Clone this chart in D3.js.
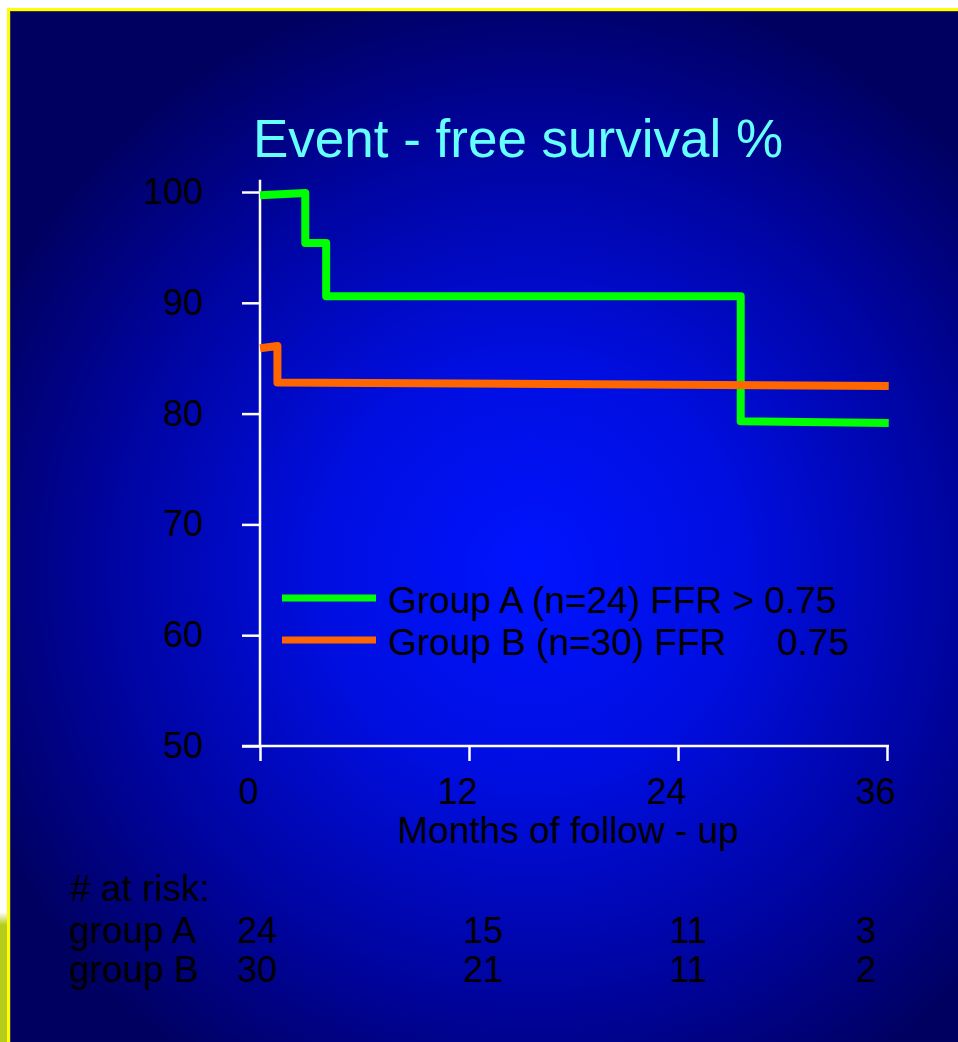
<!DOCTYPE html>
<html><head><meta charset="utf-8">
<script src="https://cdn.jsdelivr.net/npm/d3@7"></script>
<style>html,body{margin:0;padding:0;background:#fff;overflow:hidden}</style>
</head><body><svg id="c" width="958" height="1042"></svg>
<script>
// ---- data ----
const title = "Event - free survival %";
const xLabel = "Months of follow - up";
const xTicks = [0, 12, 24, 36];
const yTicks = [50, 60, 70, 80, 90, 100];
const groupATime = [0, 2.6, 2.6, 3.8, 3.8, 27.6, 27.6, 36.1];
const groupASurv = [99.7, 99.9, 95.4, 95.4, 90.6, 90.6, 79.3, 79.15];
const groupBTime = [0, 1.0, 1.0, 36.1];
const groupBSurv = [85.9, 86.1, 82.8, 82.5];
const seriesNames = ["Group A (n=24) FFR > 0.75", "Group B (n=30) FFR"];
const seriesSuffix = ["", "0.75"];
const seriesColors = ["#00ff00", "#ff6600"];
const riskTitle = "# at risk:";
const riskRows = ["group A", "group B"];
const atRiskA = [24, 15, 11, 3];
const atRiskB = [30, 21, 11, 2];

// ---- layout ----
const W = 958, H = 1042;
const svg = d3.select("#c");
const FONT = "'Liberation Sans', Arial, sans-serif";
const defs = svg.append("defs");

const rg = defs.append("radialGradient").attr("id", "bg")
  .attr("gradientUnits", "userSpaceOnUse")
  .attr("cx", 530).attr("cy", 570).attr("r", 600);
[[0, "#0014ff"], [0.35, "#000ee0"], [0.7, "#0004a0"], [1, "#000060"]]
  .forEach(([o, c]) => rg.append("stop").attr("offset", o).attr("stop-color", c));

const lg = defs.append("linearGradient").attr("id", "strip")
  .attr("x1", 0).attr("y1", 0).attr("x2", 0).attr("y2", 1);
[[0, "#ffffff"], [0.1, "#b4cc1a"], [1, "#b4cc1a"]]
  .forEach(([o, c]) => lg.append("stop").attr("offset", o).attr("stop-color", c));

svg.append("rect").attr("width", W).attr("height", H).attr("fill", "#fff");
svg.append("rect").attr("x", 0).attr("y", 912).attr("width", 7).attr("height", H - 912).attr("fill", "url(#strip)");
svg.append("rect").attr("x", 7).attr("y", 8).attr("width", W - 7).attr("height", H - 8).attr("fill", "#ffff00");
svg.append("rect").attr("x", 10).attr("y", 11).attr("width", W - 10).attr("height", H - 11).attr("fill", "#333355");
svg.append("rect").attr("x", 11).attr("y", 12).attr("width", W - 11).attr("height", H - 12).attr("fill", "url(#bg)");

const x = d3.scaleLinear().domain([0, 36]).range([260, 887]);
const y = d3.scaleLinear().domain([50, 100]).range([746, 192]);

// title
svg.append("text").attr("x", 518).attr("y", 157).attr("text-anchor", "middle")
  .attr("font-family", FONT).attr("font-size", 53).attr("fill", "#66ffff").text(title);

// axes
const gy = svg.append("g").attr("transform", `translate(${x(0)},0)`)
  .call(d3.axisLeft(y).tickValues(yTicks).tickSize(18).tickSizeOuter(0).tickPadding(20));
gy.select(".domain").remove();
gy.selectAll(".tick line").attr("stroke", "#fff").attr("stroke-width", 2.5);
gy.selectAll(".tick text").attr("font-family", FONT).attr("font-size", 36).attr("fill", "#000")
  .attr("dx", -19);
gy.append("line").attr("x1", 0).attr("x2", 0).attr("y1", y(101.1)).attr("y2", y(50))
  .attr("stroke", "#fff").attr("stroke-width", 2.5);

const gx = svg.append("g").attr("transform", `translate(0,${y(50)})`)
  .call(d3.axisBottom(x).tickValues(xTicks).tickSize(15).tickSizeOuter(0).tickPadding(17));
gx.select(".domain").remove();
gx.selectAll(".tick line").attr("stroke", "#fff").attr("stroke-width", 2.5);
gx.selectAll(".tick text").attr("font-family", FONT).attr("font-size", 36).attr("fill", "#000")
  .attr("dx", -12);
gx.append("line").attr("x1", x(0) - 18).attr("x2", x(36) + 2).attr("y1", 0).attr("y2", 0)
  .attr("stroke", "#fff").attr("stroke-width", 2.5);

svg.append("text").attr("x", 568).attr("y", 843).attr("text-anchor", "middle")
  .attr("font-family", FONT).attr("font-size", 37).attr("fill", "#000").text(xLabel);

// survival lines
const line = d3.line().x(d => x(d[0])).y(d => y(d[1]));
const series = [d3.zip(groupATime, groupASurv), d3.zip(groupBTime, groupBSurv)];
series.forEach((s, i) => {
  svg.append("path").datum(s).attr("d", line).attr("fill", "none")
    .attr("stroke", seriesColors[i]).attr("stroke-width", 8).attr("stroke-linejoin", "round");
});

// legend
const legY = d3.scalePoint().domain([0, 1]).range([598, 640]);
seriesNames.forEach((n, i) => {
  svg.append("line").attr("x1", 282).attr("x2", 376).attr("y1", legY(i)).attr("y2", legY(i))
    .attr("stroke", seriesColors[i]).attr("stroke-width", 7);
  svg.append("text").attr("x", 388).attr("y", legY(i) + 15)
    .attr("font-family", FONT).attr("font-size", 37).attr("fill", "#000").text(n);
  if (seriesSuffix[i]) {
    svg.append("text").attr("x", 777).attr("y", legY(i) + 15)
      .attr("font-family", FONT).attr("font-size", 37).attr("fill", "#000").text(seriesSuffix[i]);
  }
});

// at-risk table
const riskCol = d3.scaleOrdinal().domain(xTicks).range([257, 483, 688, 866]);
const riskRow = d3.scalePoint().domain([0, 1]).range([943, 982]);
svg.append("text").attr("x", 70).attr("y", 901)
  .attr("font-family", FONT).attr("font-size", 37).attr("fill", "#000").text(riskTitle);
[atRiskA, atRiskB].forEach((vals, r) => {
  svg.append("text").attr("x", 69).attr("y", riskRow(r))
    .attr("font-family", FONT).attr("font-size", 37).attr("fill", "#000").text(riskRows[r]);
  vals.forEach((v, c) => {
    svg.append("text").attr("x", riskCol(xTicks[c])).attr("y", riskRow(r)).attr("text-anchor", "middle")
      .attr("font-family", FONT).attr("font-size", 36).attr("fill", "#000").text(v);
  });
});
</script></body></html>
